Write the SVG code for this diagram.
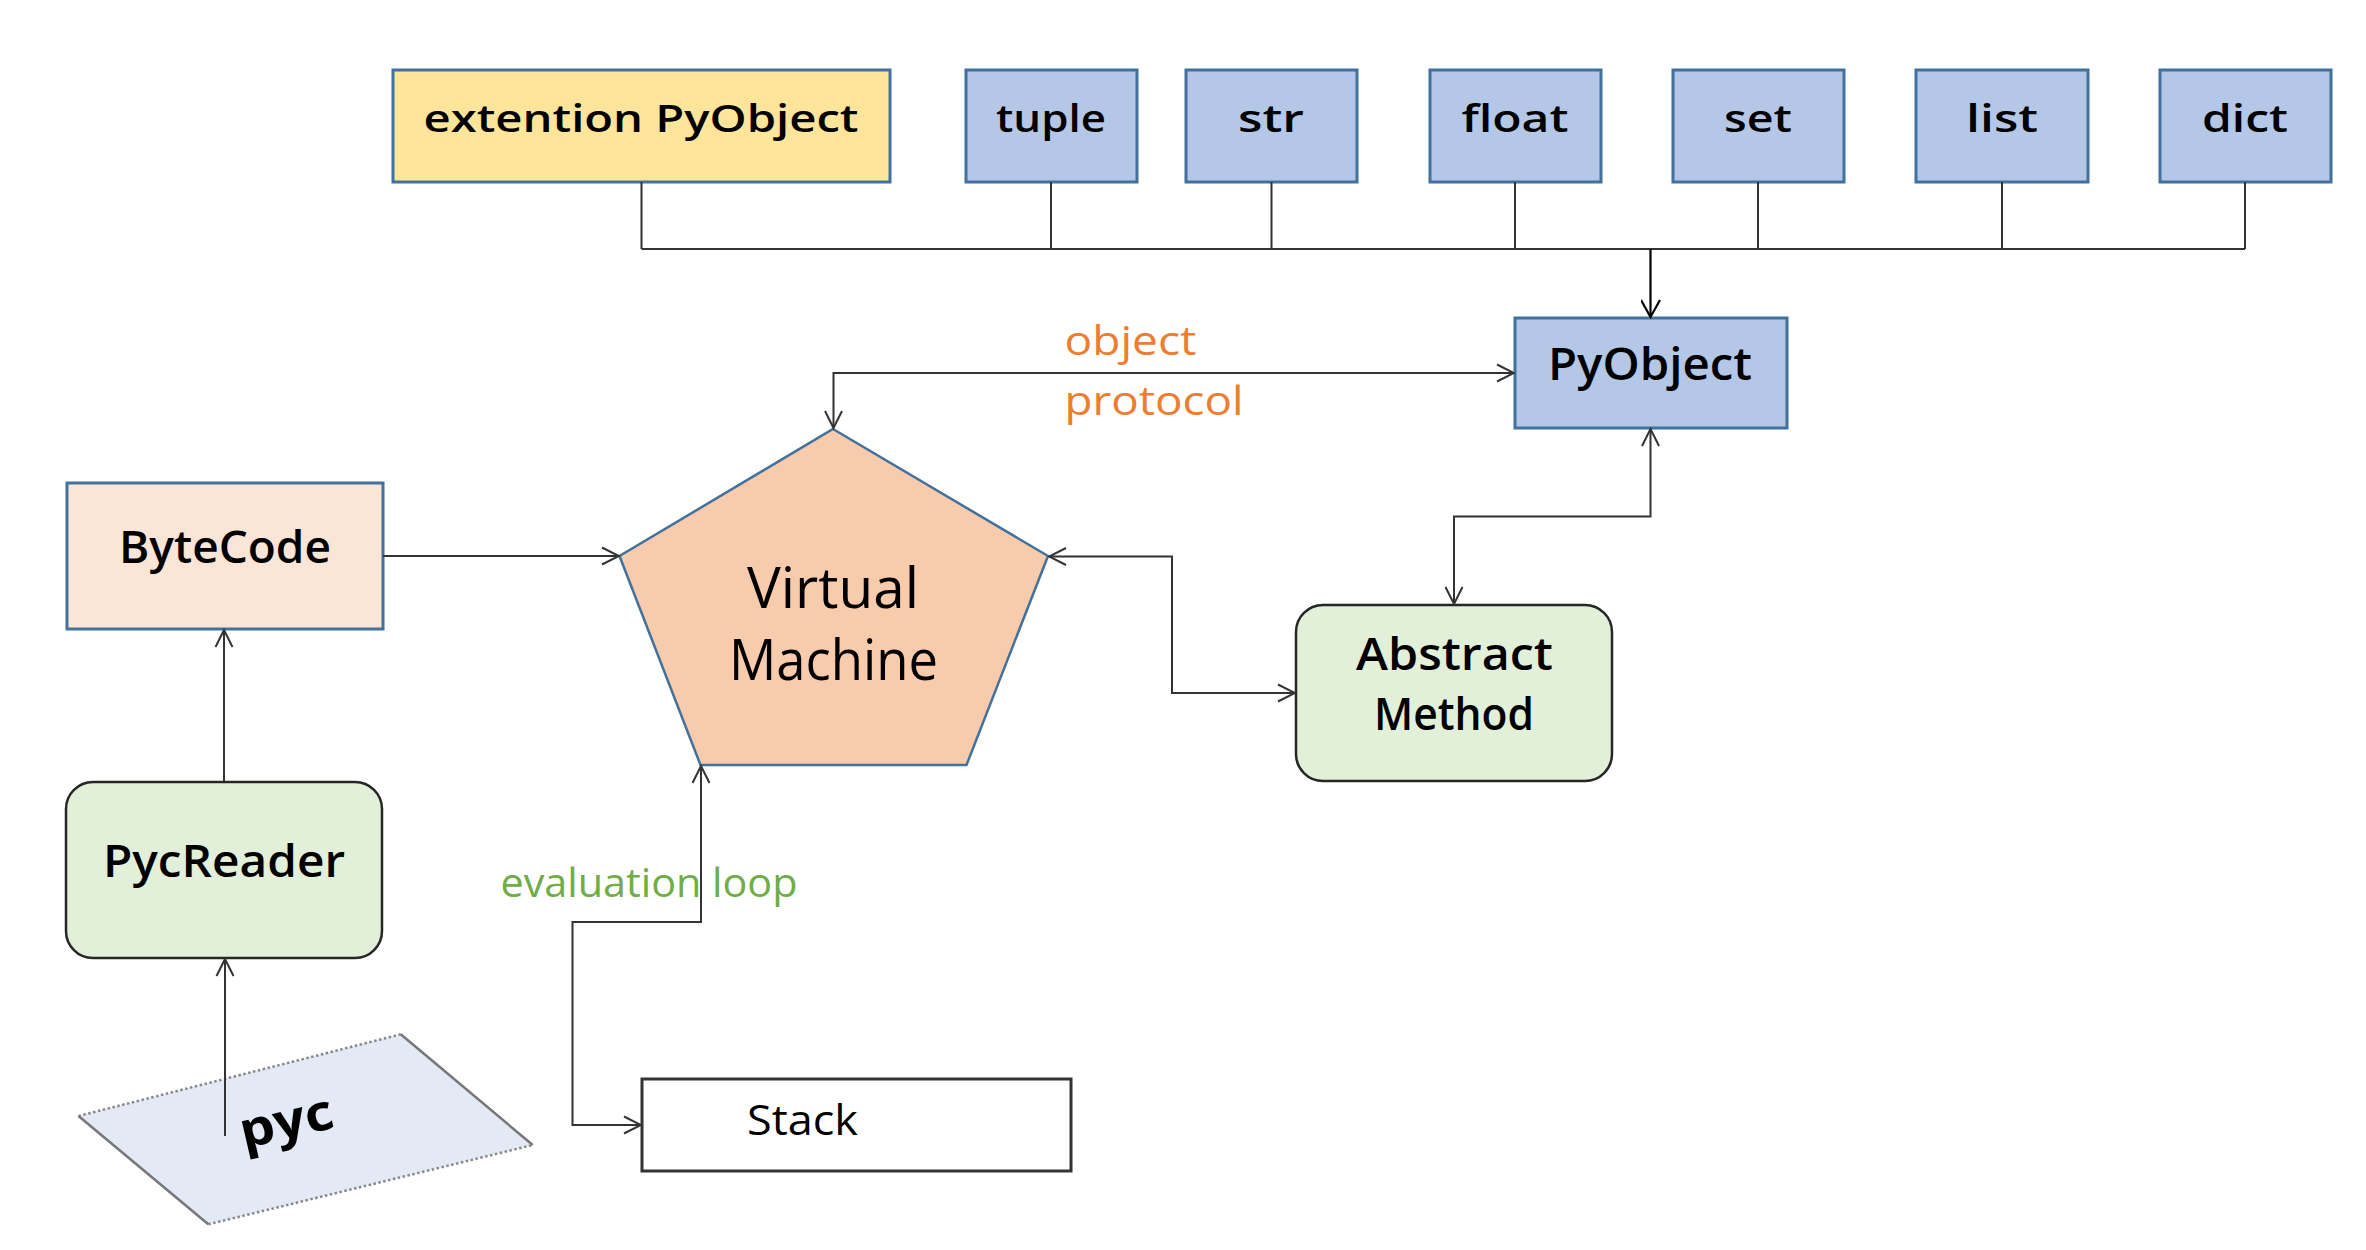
<svg xmlns="http://www.w3.org/2000/svg" width="2366" height="1250" viewBox="0 0 2366 1250">
<style>
.bx{fill:#b4c7e7;stroke:#41719c;stroke-width:3}
.lbl{font-family:"Open Sans","Noto Sans",sans-serif;fill:#000;text-anchor:middle}
.top{font-size:37px;font-weight:600}
.mid{font-size:46px;font-weight:600}
.green{fill:#e2efd9;stroke:#262626;stroke-width:2.5}
.c{fill:none;stroke:#333;stroke-width:2}
.note{font-family:"Open Sans","Noto Sans",sans-serif;font-size:40px}
</style>
<defs>
<marker id="ah" viewBox="0 0 20 20" refX="18" refY="10" markerWidth="20" markerHeight="20" markerUnits="userSpaceOnUse" orient="auto-start-reverse">
<path d="M1,1.5 L18,10 L1,18.5" fill="none" stroke="#333" stroke-width="2"/>
</marker>
<marker id="ahk" viewBox="0 0 20 20" refX="18" refY="10" markerWidth="20" markerHeight="20" markerUnits="userSpaceOnUse" orient="auto">
<path d="M1,0.5 L18,10 L1,19.5" fill="none" stroke="#000" stroke-width="2.2"/>
</marker>
</defs>
<rect width="2366" height="1250" fill="#fff"/>

<g id="ext">
<rect x="393" y="70" width="497" height="112" fill="#ffe599" stroke="#41719c" stroke-width="3"/>
<text class="lbl top" x="641" y="132" textLength="435" lengthAdjust="spacingAndGlyphs">extention PyObject</text>
</g>
<g id="tuple"><rect class="bx" x="966" y="70" width="171" height="112"/><text class="lbl top" x="1051" y="132" textLength="110" lengthAdjust="spacingAndGlyphs">tuple</text></g>
<g id="str"><rect class="bx" x="1186" y="70" width="171" height="112"/><text class="lbl top" x="1271" y="132" textLength="66" lengthAdjust="spacingAndGlyphs">str</text></g>
<g id="float"><rect class="bx" x="1430" y="70" width="171" height="112"/><text class="lbl top" x="1515" y="132" textLength="107" lengthAdjust="spacingAndGlyphs">float</text></g>
<g id="set"><rect class="bx" x="1673" y="70" width="171" height="112"/><text class="lbl top" x="1758" y="132" textLength="68" lengthAdjust="spacingAndGlyphs">set</text></g>
<g id="list"><rect class="bx" x="1916" y="70" width="172" height="112"/><text class="lbl top" x="2002" y="132" textLength="72" lengthAdjust="spacingAndGlyphs">list</text></g>
<g id="dict"><rect class="bx" x="2160" y="70" width="171" height="112"/><text class="lbl top" x="2245" y="132" textLength="86" lengthAdjust="spacingAndGlyphs">dict</text></g>

<g id="pyobject"><rect class="bx" x="1515" y="318" width="272" height="110"/><text class="lbl mid" x="1650" y="380" textLength="204" lengthAdjust="spacingAndGlyphs">PyObject</text></g>

<g id="bytecode"><rect x="67" y="483" width="316" height="146" fill="#fbe5d6" stroke="#41719c" stroke-width="3"/><text class="lbl mid" x="225" y="563" textLength="212" lengthAdjust="spacingAndGlyphs">ByteCode</text></g>

<g id="vm">
<polygon points="833,429 1048,556 966.5,765 700.5,765 619.5,556" fill="#f8cbad" stroke="#41719c" stroke-width="2.5"/>
<text class="lbl" font-size="56" x="833" y="608" textLength="172" lengthAdjust="spacingAndGlyphs">Virtual</text>
<text class="lbl" font-size="56" x="833.5" y="680" textLength="209" lengthAdjust="spacingAndGlyphs">Machine</text>
</g>

<g id="abstract">
<rect class="green" x="1296" y="605" width="316" height="176" rx="27" ry="27"/>
<text class="lbl mid" x="1454.5" y="670" textLength="197" lengthAdjust="spacingAndGlyphs">Abstract</text>
<text class="lbl mid" x="1454" y="730" textLength="160" lengthAdjust="spacingAndGlyphs">Method</text>
</g>

<g id="pycreader">
<rect class="green" x="66" y="782" width="316" height="176" rx="27" ry="27"/>
<text class="lbl mid" x="224" y="877" textLength="242" lengthAdjust="spacingAndGlyphs">PycReader</text>
</g>

<g id="pyc">
<polygon points="78.5,1116 400.7,1034.3 532.7,1145 208.3,1224.3" fill="#e3eaf6"/>
<line x1="78.5" y1="1116" x2="400.7" y2="1034.3" stroke="#888" stroke-width="2.5" stroke-dasharray="2.5,2.5"/>
<line x1="208.3" y1="1224.3" x2="532.7" y2="1145" stroke="#888" stroke-width="2.5" stroke-dasharray="2.5,2.5"/>
<line x1="78.5" y1="1116" x2="208.3" y2="1224.3" stroke="#777" stroke-width="2.5"/>
<line x1="400.7" y1="1034.3" x2="532.7" y2="1145" stroke="#777" stroke-width="2.5"/>
<text class="lbl" font-size="50" font-weight="700" transform="translate(290,1138) rotate(-13)" textLength="95" lengthAdjust="spacingAndGlyphs">pyc</text>
</g>

<g id="stack">
<rect x="642" y="1079" width="429" height="92" fill="#fff" stroke="#333" stroke-width="3"/>
<text font-family="'Open Sans','Noto Sans',sans-serif" font-size="42" x="747" y="1135" textLength="111" lengthAdjust="spacingAndGlyphs">Stack</text>
</g>

<g id="connectors">
<path class="c" d="M641.5,182 V249 M1051,182 V249 M1271.5,182 V249 M1515,182 V249 M1758,182 V249 M2002,182 V249 M2245,182 V249 M641.5,249 H2245"/>
<path d="M1650.5,249 V317" fill="none" stroke="#000" stroke-width="2.2" marker-end="url(#ahk)"/>
<path class="c" d="M1514,373 H833.5 V428" marker-start="url(#ah)" marker-end="url(#ah)"/>
<path class="c" d="M383,556 H619" marker-end="url(#ah)"/>
<path class="c" d="M224,781 V630" marker-end="url(#ah)"/>
<path class="c" d="M225,1136 V959" marker-end="url(#ah)"/>
<path class="c" d="M1650.5,429 V516.5 H1454 V604" marker-start="url(#ah)" marker-end="url(#ah)"/>
<path class="c" d="M1049,556.5 H1172 V693 H1295" marker-start="url(#ah)" marker-end="url(#ah)"/>
<path class="c" d="M701,766 V922 H572.5 V1125 H641" marker-start="url(#ah)" marker-end="url(#ah)"/>
</g>

<g id="labels">
<text class="note" fill="#ed7d31" x="1064.5" y="355" textLength="132" lengthAdjust="spacingAndGlyphs">object</text>
<text class="note" fill="#ed7d31" x="1064.5" y="415" textLength="179" lengthAdjust="spacingAndGlyphs">protocol</text>
<text class="note" fill="#70ad47" x="500.5" y="897" textLength="297" lengthAdjust="spacingAndGlyphs">evaluation loop</text>
</g>
</svg>
